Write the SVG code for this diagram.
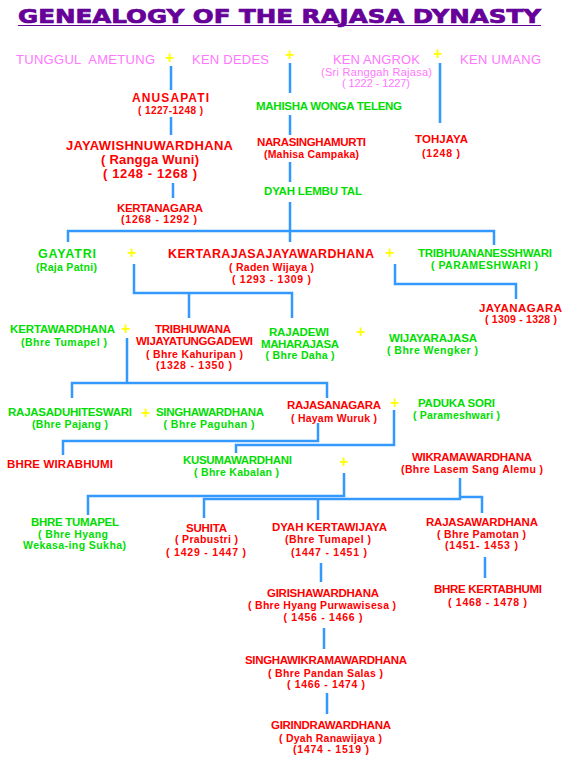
<svg xmlns="http://www.w3.org/2000/svg" width="573" height="759" viewBox="0 0 573 759">
<style>
text{font-family:"Liberation Sans",Arial,sans-serif;text-anchor:middle;}
.t{font-family:"DejaVu Sans","Liberation Sans",sans-serif;font-weight:bold;font-size:19px;fill:#660099;stroke:#660099;stroke-width:0.7;text-anchor:start;}
.p{fill:#ff77ff;font-size:13px;}
.ps{fill:#ff77ff;font-size:11px;}
.r{fill:#ff0000;font-weight:bold;font-size:11.5px;}
.rs{fill:#ff0000;font-weight:bold;font-size:10.5px;}
.g{fill:#00dd00;font-weight:bold;font-size:11.5px;}
.gs{fill:#00dd00;font-weight:bold;font-size:10.5px;}
.pl{fill:#ffff00;font-weight:bold;font-size:16px;}
.c{fill:none;stroke:#3399ff;stroke-width:2.5;}
</style>
<rect width="573" height="759" fill="#ffffff"/>
<g id="title">
<text class="t" x="18" y="23" textLength="523" lengthAdjust="spacingAndGlyphs">GENEALOGY OF THE RAJASA DYNASTY</text>
<line x1="18" y1="25.5" x2="541" y2="25.5" stroke="#660099" stroke-width="1.2"/>
</g>
<g id="connectors" class="c">
<path d="M171,66V90M171,117V135M173,183V198"/>
<path d="M290,63V93M290,115V135M290,162V182M290,202V242"/>
<path d="M68,242V231H494V245"/>
<path d="M440,63V123"/>
<path d="M134,264V293H292V318M189,293V318"/>
<path d="M395,264V284H516V299"/>
<path d="M127,338V383M72,398V383H327V398"/>
<path d="M318,423V441H63V455"/>
<path d="M394,410V445H236V453"/>
<path d="M344,473V496H88V515"/>
<path d="M460,478V499H204V518M318,499V520M460,497H482V513"/>
<path d="M321,563V582M485,557V578M324,628V649M327,693V714"/>
</g>
<g id="plus-signs">
<text class="pl" x="170" y="63">+</text>
<text class="pl" x="290" y="60">+</text>
<text class="pl" x="438" y="59">+</text>
<text class="pl" x="132" y="258">+</text>
<text class="pl" x="390" y="258">+</text>
<text class="pl" x="126" y="334">+</text>
<text class="pl" x="361" y="337">+</text>
<text class="pl" x="146" y="418">+</text>
<text class="pl" x="395" y="408">+</text>
<text class="pl" x="344" y="467">+</text>
</g>
<g id="n-tunggul"><text class="p" x="85.5" y="64" textLength="139" xml:space="preserve">TUNGGUL  AMETUNG</text></g>
<g id="n-kendedes"><text class="p" x="230.5" y="64" textLength="77">KEN DEDES</text></g>
<g id="n-kenangrok">
<text class="p" x="376.5" y="64" textLength="87">KEN ANGROK</text>
<text class="ps" x="376.5" y="76" textLength="111">(Sri Ranggah Rajasa)</text>
<text class="ps" x="376" y="87" textLength="68">( 1222 - 1227)</text>
</g>
<g id="n-kenumang"><text class="p" x="500.5" y="64" textLength="81">KEN UMANG</text></g>
<g id="n-anusapati">
<text class="r" style="font-size:12px" x="170.5" y="102" textLength="77">ANUSAPATI</text>
<text class="rs" style="font-size:10px" x="170.5" y="113.5" textLength="65">( 1227-1248 )</text>
</g>
<g id="n-jayawishnuwardhana">
<text class="r" style="font-size:13px" x="149.5" y="150" textLength="167">JAYAWISHNUWARDHANA</text>
<text class="r" style="font-size:13px" x="150" y="164" textLength="98">( Rangga Wuni)</text>
<text class="r" style="font-size:13px" x="150" y="178" textLength="94">( 1248 - 1268 )</text>
</g>
<g id="n-kertanagara">
<text class="r" x="160" y="212" textLength="86">KERTANAGARA</text>
<text class="rs" x="159" y="223" textLength="76">(1268 - 1292 )</text>
</g>
<g id="n-mahisha"><text class="g" x="329" y="110" textLength="146">MAHISHA WONGA TELENG</text></g>
<g id="n-narasinghamurti">
<text class="r" x="311.5" y="146" textLength="109">NARASINGHAMURTI</text>
<text class="rs" x="311.5" y="158" textLength="95">(Mahisa Campaka)</text>
</g>
<g id="n-lembutal"><text class="g" x="313" y="195" textLength="98">DYAH LEMBU TAL</text></g>
<g id="n-tohjaya">
<text class="r" x="441.5" y="143" textLength="53">TOHJAYA</text>
<text class="rs" x="441" y="157" textLength="38">(1248 )</text>
</g>
<g id="n-gayatri">
<text class="g" style="font-size:12.5px" x="67" y="258" textLength="58">GAYATRI</text>
<text class="gs" x="66.5" y="271" textLength="61">(Raja Patni)</text>
</g>
<g id="n-kertarajasa">
<text class="r" style="font-size:12.5px" x="271" y="258" textLength="206">KERTARAJASAJAYAWARDHANA</text>
<text class="rs" x="271.5" y="271" textLength="85">( Raden Wijaya )</text>
<text class="rs" x="271.5" y="283" textLength="79">( 1293 - 1309 )</text>
</g>
<g id="n-tribhuananesshwari">
<text class="g" x="485" y="257" textLength="134">TRIBHUANANESSHWARI</text>
<text class="gs" x="484.5" y="269" textLength="107">( PARAMESHWARI )</text>
</g>
<g id="n-jayanagara">
<text class="r" x="520.5" y="312" textLength="83">JAYANAGARA</text>
<text class="rs" x="521" y="323" textLength="72">( 1309 - 1328 )</text>
</g>
<g id="n-kertawardhana">
<text class="g" x="62.5" y="333" textLength="105">KERTAWARDHANA</text>
<text class="gs" x="64" y="346" textLength="86">(Bhre Tumapel )</text>
</g>
<g id="n-tribhuwana">
<text class="r" x="193" y="333" textLength="76">TRIBHUWANA</text>
<text class="r" x="194.5" y="345" textLength="117">WIJAYATUNGGADEWI</text>
<text class="rs" x="194.5" y="358" textLength="97">( Bhre Kahuripan )</text>
<text class="rs" x="194" y="369" textLength="76">(1328 - 1350 )</text>
</g>
<g id="n-rajadewi">
<text class="g" x="299" y="336" textLength="60">RAJADEWI</text>
<text class="g" x="300" y="348" textLength="78">MAHARAJASA</text>
<text class="gs" x="300" y="359" textLength="69">( Bhre Daha )</text>
</g>
<g id="n-wijayarajasa">
<text class="g" x="433" y="342" textLength="88">WIJAYARAJASA</text>
<text class="gs" x="432.5" y="354" textLength="91">( Bhre Wengker )</text>
</g>
<g id="n-rajasaduhiteswari">
<text class="g" x="70" y="416" textLength="124">RAJASADUHITESWARI</text>
<text class="gs" x="70" y="428" textLength="76">(Bhre Pajang )</text>
</g>
<g id="n-singhawardhana">
<text class="g" x="210" y="416" textLength="108">SINGHAWARDHANA</text>
<text class="gs" x="209" y="428" textLength="91">( Bhre Paguhan )</text>
</g>
<g id="n-rajasanagara">
<text class="r" x="334" y="409" textLength="94">RAJASANAGARA</text>
<text class="rs" x="334" y="422" textLength="86">( Hayam Wuruk )</text>
</g>
<g id="n-padukasori">
<text class="g" x="456.5" y="407" textLength="77">PADUKA SORI</text>
<text class="gs" x="456.5" y="419" textLength="87">( Parameshwari )</text>
</g>
<g id="n-wirabhumi"><text class="r" x="60" y="468" textLength="106">BHRE WIRABHUMI</text></g>
<g id="n-kusumawardhani">
<text class="g" x="237.5" y="464" textLength="109">KUSUMAWARDHANI</text>
<text class="gs" x="236.5" y="476" textLength="85">( Bhre Kabalan )</text>
</g>
<g id="n-wikramawardhana">
<text class="r" x="472" y="461" textLength="120">WIKRAMAWARDHANA</text>
<text class="rs" x="472" y="473" textLength="142">(Bhre Lasem Sang Alemu )</text>
</g>
<g id="n-bhretumapel">
<text class="g" x="75" y="526" textLength="88">BHRE TUMAPEL</text>
<text class="gs" x="73" y="538" textLength="70">( Bhre Hyang</text>
<text class="gs" x="74.5" y="549" textLength="103">Wekasa-ing Sukha)</text>
</g>
<g id="n-suhita">
<text class="r" x="206.5" y="532" textLength="41">SUHITA</text>
<text class="rs" x="206.5" y="543" textLength="63">( Prabustri )</text>
<text class="rs" x="206" y="556" textLength="80">( 1429 - 1447 )</text>
</g>
<g id="n-kertawijaya">
<text class="r" x="329.5" y="531" textLength="115">DYAH KERTAWIJAYA</text>
<text class="rs" x="328" y="543" textLength="86">(Bhre Tumapel )</text>
<text class="rs" x="329" y="556" textLength="76">(1447 - 1451 )</text>
</g>
<g id="n-rajasawardhana">
<text class="r" x="482" y="526" textLength="112">RAJASAWARDHANA</text>
<text class="rs" x="481.5" y="538" textLength="89">( Bhre Pamotan )</text>
<text class="rs" x="481.5" y="549" textLength="73">(1451- 1453 )</text>
</g>
<g id="n-girishawardhana">
<text class="r" x="323" y="597" textLength="112">GIRISHAWARDHANA</text>
<text class="rs" x="322" y="609" textLength="148">( Bhre Hyang Purwawisesa )</text>
<text class="rs" x="323" y="621" textLength="79">( 1456 - 1466 )</text>
</g>
<g id="n-kertabhumi">
<text class="r" x="488" y="593" textLength="108">BHRE KERTABHUMI</text>
<text class="rs" x="487.5" y="606" textLength="79">( 1468 - 1478 )</text>
</g>
<g id="n-singhawikramawardhana">
<text class="r" x="326" y="664" textLength="162">SINGHAWIKRAMAWARDHANA</text>
<text class="rs" x="325.5" y="677" textLength="115">( Bhre Pandan Salas )</text>
<text class="rs" x="326" y="688" textLength="78">( 1466 - 1474 )</text>
</g>
<g id="n-girindrawardhana">
<text class="r" x="331" y="729" textLength="120">GIRINDRAWARDHANA</text>
<text class="rs" x="330.5" y="742" textLength="103">( Dyah Ranawijaya )</text>
<text class="rs" x="331" y="753" textLength="76">(1474 - 1519 )</text>
</g>
</svg>
